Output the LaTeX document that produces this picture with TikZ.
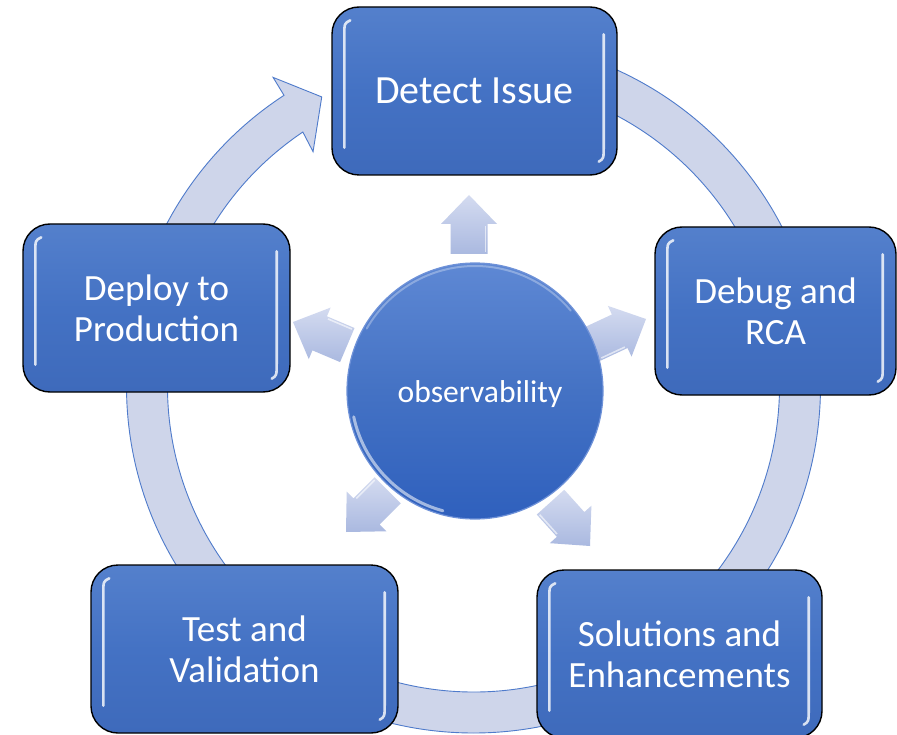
\documentclass[tikz,border=0pt]{standalone}
\usepackage{fontspec}
\setmainfont{Carlito}
\usetikzlibrary{calc}

\definecolor{boxblue}{HTML}{4472C4}
\definecolor{boxtop}{HTML}{5480CC}
\definecolor{boxbot}{HTML}{3E6ABB}
\definecolor{ringfill}{HTML}{CED5EA}
\definecolor{ringline}{HTML}{4F7BCB}
\definecolor{arrlight}{HTML}{D4DBF0}
\definecolor{arrdark}{HTML}{AAB9E0}
\definecolor{orbtop}{HTML}{5E88D4}
\definecolor{orbbot}{HTML}{2F60BD}
\definecolor{orbrim}{HTML}{6F92D8}

\tikzset{
  stepbox/.style={rectangle, rounded corners=27pt, draw=black, line width=1.4pt,
    top color=boxtop, bottom color=boxbot, middle color=boxblue,
    text=white, align=center, inner sep=0pt, minimum height=168pt,
    font=\fontsize{37}{41}\selectfont},
  bigtext/.style={font=\fontsize{40}{42}\selectfont},
  streak/.style={draw=white, line width=2.6pt, line cap=round, opacity=0.8},
  ringband/.style={fill=ringfill, draw=ringline, line width=0.9pt},
  orb/.style={circle, inner sep=0pt, minimum size=256pt,
    top color=orbtop, bottom color=orbbot, middle color=boxblue,
    draw=orbrim, line width=1.2pt},
  orbtext/.style={text=white, xshift=5pt, yshift=-3pt,
    font=\fontsize{31.6}{34}\selectfont},
  % outward block arrow, tip at the origin, pointing along +x
  blockarr/.pic={
    \shade[top color=arrlight, bottom color=arrdark]
      (0,0) -- (-29,-28) -- (-29,-18.5) -- (-59,-18.5) -- (-59,18.5)
      -- (-29,18.5) -- (-29,28) -- cycle;
    \draw[white, opacity=0.6, line width=1.6pt] (-57,16.5) -- (-31,16.5);
  }
}

% glossy vertical highlights inside a step box
\newcommand\boxshine[1]{%
  \draw[streak] ([xshift=19pt,yshift=-14pt]#1.north west)
    .. controls ([xshift=13pt,yshift=-17pt]#1.north west) ..
    ([xshift=13pt,yshift=-30pt]#1.north west)
    -- ([xshift=13pt,yshift=28pt]#1.south west);
  \draw[streak] ([xshift=-14pt,yshift=-28pt]#1.north east)
    -- ([xshift=-14pt,yshift=30pt]#1.south east)
    .. controls ([xshift=-14pt,yshift=17pt]#1.south east) ..
    ([xshift=-19pt,yshift=14pt]#1.south east);
}

\begin{document}
\begin{tikzpicture}[x=1pt, y=-1pt]
  \useasboundingbox (0,0) rectangle (897,735);
  \fill[white] (0,0) rectangle (897,735);

  % large circular arrow running clockwise behind the steps
  \coordinate (ctr) at (473.5,386);
  \filldraw[ringband]
    ($(ctr)+(-90:347)$) arc[start angle=-90, end angle=236.9, radius=347]
    -- ($(ctr)+(237.0:368)$)
    -- ($(ctr)+(242.3:326.5)$)
    -- ($(ctr)+(235.6:284)$)
    -- ($(ctr)+(236.1:306)$)
    arc[start angle=236.1, end angle=-90, radius=306]
    -- cycle;

  % the five steps
  \node[stepbox, bigtext, minimum width=285pt] (detect) at (474.5,91) {Detect Issue};
  \node[stepbox, minimum width=241pt] (debug) at (775.5,311) {Debug and\\RCA};
  \node[stepbox, minimum width=285pt] (solutions) at (679.5,654) {Solutions and\\Enhancements};
  \node[stepbox, minimum width=307pt] (test) at (244.5,649) {Test and\\Validation};
  \node[stepbox, minimum width=267pt] (deploy) at (156.5,308) {Deploy to\\Production};
  \boxshine{detect}
  \boxshine{debug}
  \boxshine{solutions}
  \boxshine{test}
  \boxshine{deploy}

  % block arrows radiating from the hub
  \pic[rotate=90]  at (469,195) {blockarr};
  \pic[rotate=25]  at (646,319) {blockarr};
  \pic[rotate=-48] at (590,546) {blockarr};
  \pic[rotate=225] at (346,532) {blockarr};
  \pic[rotate=157] at (293,322) {blockarr};

  % hub
  \node[orb, label={[orbtext]center:observability}] (obs) at (475,391) {};
  \draw[white, opacity=0.55, line width=3pt, line cap=round]
    ($(obs.center)+(105:124)$) arc[start angle=105, end angle=168, radius=124];
  \draw[white, opacity=0.3, line width=2pt, line cap=round]
    ($(obs.center)+(-150:125)$) arc[start angle=-150, end angle=-40, radius=125];
\end{tikzpicture}
\end{document}
